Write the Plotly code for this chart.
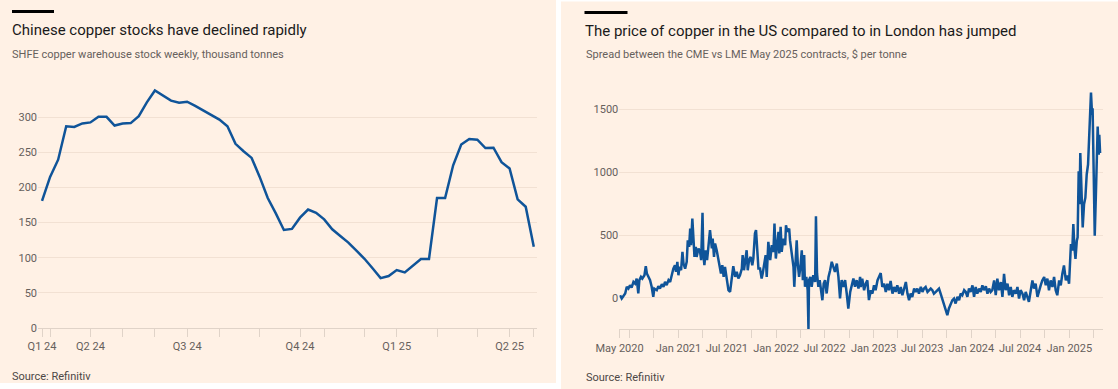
import plotly.graph_objects as go
import pandas as pd

# ---------------- data: left chart (SHFE weekly stocks, thousand tonnes) ----------------
shfe_stock = [181, 215, 239.5, 287, 286, 291, 292.5, 300.5, 300.5, 288, 291, 291.5, 301.5, 321,
              338, 331, 323.5, 320.5, 322, 316, 309.5, 302.5, 296.5, 287, 262, 251.5, 242, 215,
              185, 163, 139.5, 141, 157, 168.5, 164, 154.5, 140.5, 131, 121.5, 110, 98.5, 85,
              71, 74, 82.5, 79, 89, 98, 98, 185, 185, 231.5, 261, 269, 268, 256, 256.5, 236,
              227, 183, 172.5, 115.5]
week_index = list(range(len(shfe_stock)))
left_tick_pos = [0, 1, 6, 10, 14, 18, 22, 27, 32, 35, 40, 44, 49, 54, 58, 61]
left_tick_text = ["Q1 24", "", "Q2 24", "", "", "Q3 24", "", "", "Q4 24", "", "", "Q1 25", "", "",
                  "Q2 25", ""]
left_y_ticks = [0, 50, 100, 150, 200, 250, 300]

# ---------------- data: right chart (CME vs LME spread, $/t) ----------------
spread_start = "2020-05-26"
spread_day = [2, 8, 21, 27, 33, 39, 45, 52, 58, 64, 70, 74, 80, 85, 93, 98, 102, 108, 114, 120,
              126, 130, 139, 145, 151, 158, 164, 170, 176, 183, 189, 195, 201, 207, 211, 216,
              220, 224, 230, 235, 239, 245, 251, 255, 260, 264, 267, 272, 276, 280, 285, 288,
              295, 301, 305, 310, 313, 317, 322, 327, 332, 338, 345, 348, 353, 357, 363, 369,
              376, 379, 384, 389, 394, 401, 407, 413, 419, 425, 432, 438, 444, 450,
              457, 460, 465, 469, 475, 479, 484, 490, 496, 500, 506, 510, 515, 519, 525, 531,
              535, 540, 546, 550, 556, 563, 569, 575, 579, 584, 587, 594, 597, 602, 606, 612,
              619, 622, 627, 634, 637, 644, 650, 653, 658, 662, 666, 671, 676, 681, 685, 690,
              693, 698, 703, 706, 708, 713, 718, 724, 731, 734, 738, 743, 748, 753, 758, 763,
              768, 774, 781, 787, 793, 799, 805, 812, 818, 824, 830, 837, 843, 849, 855, 862,
              868, 874, 880, 886, 893, 899,
              901, 907, 914, 920, 926, 932, 939, 945, 951, 957, 964, 970, 976, 982, 989, 995,
              1001, 1007, 1013, 1020, 1026, 1032, 1038, 1045, 1051, 1057, 1063, 1070, 1076,
              1082, 1088, 1094, 1101, 1107, 1113, 1119, 1126, 1132, 1138, 1144, 1151, 1157,
              1163, 1169, 1175, 1182, 1188, 1194, 1200, 1207, 1213, 1219, 1225, 1231, 1238,
              1244, 1250, 1256, 1263, 1269, 1275, 1281, 1288, 1294, 1300, 1306, 1312, 1319,
              1325, 1331, 1337, 1344, 1350, 1356, 1362, 1369, 1375, 1381, 1387, 1393, 1400,
              1406, 1412, 1418, 1425, 1431, 1437, 1443, 1450, 1456, 1462, 1468, 1474, 1481,
              1487, 1493, 1499, 1506, 1512, 1518, 1524, 1530, 1537, 1543, 1549, 1555, 1562,
              1568, 1574, 1580, 1587, 1593, 1599, 1605, 1611, 1618, 1624, 1630, 1636, 1643,
              1649, 1655, 1661, 1668, 1674, 1680, 1684, 1687, 1692, 1696, 1700, 1704, 1709,
              1712, 1716, 1719, 1722, 1726, 1731, 1736, 1741, 1746, 1751, 1755, 1758, 1762,
              1766, 1768, 1772, 1776, 1780, 1783, 1787, 1791, 1793, 1796]
spread_value = [21, -5, 35, 88, 74, 101, 82, 127, 114, 154, 35, 141, 167, 154, 180, 252, 194, 167,
                141, 88, 8, 74, 61, 93, 74, 109, 88, 127, 101, 141, 127, 180, 233, 260, 207, 287,
                180, 247, 220, 366, 273, 233, 287, 459, 406, 552, 419, 632, 472, 326, 406, 326,
                393, 366, 300, 677, 353, 260, 379, 300, 406, 539, 393, 472, 326, 433, 379, 300,
                233, 194, 260, 167, 247, 141, 61, 48, 141, 252, 167, 207, 154, 180,
                233, 340, 220, 300, 379, 220, 300, 326, 260, 313, 512, 539, 406, 233, 233, 154,
                194, 273, 340, 167, 446, 300, 419, 366, 592, 313, 393, 526, 353, 565, 366, 472,
                419, 578, 526, 552, 459, 326, 247, 88, 300, 459, 273, 167, 247, 379, 141, 340,
                88, 167, 61, -250, 141, 167, 88, 180, 127, 650, 194, 88, 141, 35, -19, 114,
                141, 35, 167, 220, 287, 247, 207, 273, 167, -5, 141, 88, 141, 35, -85, 48,
                114, 154, 88, 141, 74, 167,
                87, 153, 61, 113, 139, -18, 61, 34, 100, 61, 139, 166, 197, 87, 113, 47,
                113, 61, 134, 34, 87, 47, 100, 34, 87, 21, 61, 126, 34,
                -18, 34, 8, 74, 47, 74, 34, 87, 47, 74, 87, 47, 61,
                74, 61, 34, 47, 61, 74, 34, -18, -58, -97, -137, -84, -45,
                -18, -5, -45, 8, -18, 34, 21, 61, 47, 8, 74, 47, 100,
                8, 87, 34, 74, 47, 100, 61, 92, 34, 74, 47, 61, 139,
                21, 153, 61, 126, 8, 192, 61, 113, 21, 87, 8, 61, 34,
                87, -5, 61, 34, -18, 47, 8, -31, 61, 139, 74, 113, 8,
                61, 100, 139, 166, 100, 153, 61, 139, 87, 166, 61, 21, 139,
                100, 192, 258, 139, 179, 113, 324, 429, 376, 587, 403, 311, 455,
                482, 1008, 745, 1153, 797, 561, 745, 797, 982, 1061, 1271, 1403, 1634,
                1456, 1508, 1008, 495, 797, 1140, 1363, 1140, 1298, 1153]
right_tick_dates = ["2020-05-26", "2020-07-01", "2020-10-01",
                    "2021-01-01", "2021-04-01", "2021-07-01", "2021-10-01",
                    "2022-01-01", "2022-04-01", "2022-07-01", "2022-10-01",
                    "2023-01-01", "2023-04-01", "2023-07-01", "2023-10-01",
                    "2024-01-01", "2024-04-01", "2024-07-01", "2024-10-01",
                    "2025-01-01", "2025-04-01"]
right_tick_text = ["May 2020", "", "", "Jan 2021", "", "Jul 2021", "", "Jan 2022", "", "Jul 2022", "",
                   "Jan 2023", "", "Jul 2023", "", "Jan 2024", "", "Jul 2024", "", "Jan 2025", ""]
right_y_ticks = [0, 500, 1000, 1500]

spread_dates = pd.Timestamp(spread_start) + pd.to_timedelta(spread_day, unit="D")

# ---------------- styling ----------------
W, H = 1118, 389
FONT = "Roboto"
BG = "#fff1e5"
LINE = "#0f5499"
GRID = "#f2e1d3"
AXIS = "#e0d3c8"
TICKFONT = dict(family=FONT, size=11, color="#66605c")


def fx(x):
    return x / W


def fy(y):
    return 1 - y / H


fig = go.Figure()
fig.add_trace(go.Scatter(x=week_index, y=shfe_stock, mode="lines",
                         line=dict(color=LINE, width=2.5), xaxis="x", yaxis="y",
                         hoverinfo="skip"))
fig.add_trace(go.Scatter(x=spread_dates, y=spread_value, mode="lines",
                         line=dict(color=LINE, width=2.5), xaxis="x2", yaxis="y2",
                         hoverinfo="skip"))

axis_common = dict(showline=True, linecolor=AXIS, linewidth=1, ticks="outside", ticklen=8,
                   tickcolor=AXIS, tickwidth=1, showgrid=False, zeroline=False,
                   tickfont=TICKFONT, tickmode="array", fixedrange=True, automargin=False)
yaxis_common = dict(showgrid=True, gridcolor=GRID, gridwidth=1, zeroline=False, showline=False,
                    ticks="", tickfont=TICKFONT, tickmode="array", fixedrange=True,
                    automargin=False)

fig.update_layout(
    template="none",
    width=W, height=H, autosize=False,
    margin=dict(l=0, r=0, t=0, b=0, pad=0, autoexpand=False),
    paper_bgcolor="white", plot_bgcolor="rgba(0,0,0,0)",
    showlegend=False,
    xaxis=dict(axis_common, domain=[fx(38), fx(537)], range=[-0.5, 61.4],
               tickvals=left_tick_pos, ticktext=left_tick_text, anchor="y"),
    yaxis=dict(yaxis_common, domain=[fy(328), fy(82)], range=[0, 350],
               tickvals=left_y_ticks, anchor="x"),
    xaxis2=dict(axis_common, type="date", domain=[fx(619.3), fx(1103.3)],
                range=["2020-05-25", "2025-05-08"],
                tickvals=right_tick_dates, ticktext=right_tick_text, anchor="y2"),
    yaxis2=dict(yaxis_common, domain=[fy(329.3), fy(90.5)], range=[-250, 1650],
                tickvals=right_y_ticks, anchor="x2"),
)

shapes = [
    dict(type="rect", xref="paper", yref="paper", x0=fx(0), x1=fx(556), y0=fy(383), y1=fy(0),
         fillcolor=BG, line=dict(width=0), layer="below"),
    dict(type="rect", xref="paper", yref="paper", x0=fx(561), x1=fx(1118), y0=fy(389), y1=fy(1.5),
         fillcolor=BG, line=dict(width=0), layer="below"),
    dict(type="rect", xref="paper", yref="paper", x0=fx(12), x1=fx(54), y0=fy(13), y1=fy(10),
         fillcolor="#000000", line=dict(width=0)),
    dict(type="rect", xref="paper", yref="paper", x0=fx(584.5), x1=fx(627.5), y0=fy(14), y1=fy(11),
         fillcolor="#000000", line=dict(width=0)),
]
fig.update_layout(shapes=shapes)


def text(x, y, s, size, color):
    return dict(xref="paper", yref="paper", x=fx(x), y=fy(y), text=s, showarrow=False,
                xanchor="left", yanchor="middle", align="left",
                font=dict(family=FONT, size=size, color=color))


annotations = [
    text(10, 30, "Chinese copper stocks have declined rapidly", 15, "#1a1a1a"),
    text(10, 54, "SHFE copper warehouse stock weekly, thousand tonnes", 11, "#66605c"),
    text(10, 376, "Source: Refinitiv", 11, "#4d4845"),
    text(583, 31, "The price of copper in the US compared to in London has jumped", 15, "#1a1a1a"),
    text(584, 55, "Spread between the CME vs LME May 2025 contracts, $ per tonne", 11, "#66605c"),
    text(584, 377, "Source: Refinitiv", 11, "#4d4845"),
]
fig.update_layout(annotations=annotations)

fig.write_html("out.html", config={"displayModeBar": False, "staticPlot": True},
               post_script="document.body.style.margin='0';document.body.style.overflow='hidden';")
